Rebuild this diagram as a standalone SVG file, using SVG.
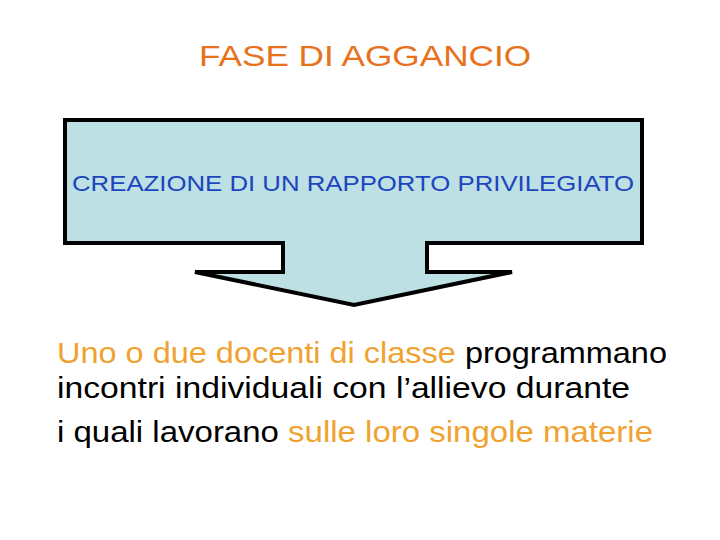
<svg xmlns="http://www.w3.org/2000/svg" width="720" height="540" viewBox="0 0 720 540">
<style>
.t{font-family:"Liberation Sans","DejaVu Sans",sans-serif}
.o{fill:#EFA22F}
.k{fill:#000}
</style>
<rect width="720" height="540" fill="#fff"/>
<g id="title">
<text class="t" x="365" y="66" text-anchor="middle" font-size="30" fill="#E8721C" textLength="332" lengthAdjust="spacingAndGlyphs">FASE DI AGGANCIO</text>
</g>
<g id="box">
<path d="M65,120 H642 V243 H427 V272 H512 L354,305 L195,272 H283 V243 H65 Z" fill="#BCE0E3" stroke="#000" stroke-width="4" stroke-linejoin="miter"/>
<text class="t" x="353" y="191" text-anchor="middle" font-size="22" fill="#1E44C0" textLength="562" lengthAdjust="spacingAndGlyphs">CREAZIONE DI UN RAPPORTO PRIVILEGIATO</text>
</g>
<g id="body" class="t" font-size="29">
<text x="57" y="363" textLength="610" lengthAdjust="spacingAndGlyphs"><tspan class="o">Uno o due docenti di classe</tspan><tspan class="k"> programmano</tspan></text>
<text x="57" y="398" class="k" textLength="573" lengthAdjust="spacingAndGlyphs">incontri individuali con l’allievo durante</text>
<text x="57" y="442" textLength="596" lengthAdjust="spacingAndGlyphs"><tspan class="k">i quali lavorano </tspan><tspan class="o">sulle loro singole materie</tspan></text>
</g>
</svg>
